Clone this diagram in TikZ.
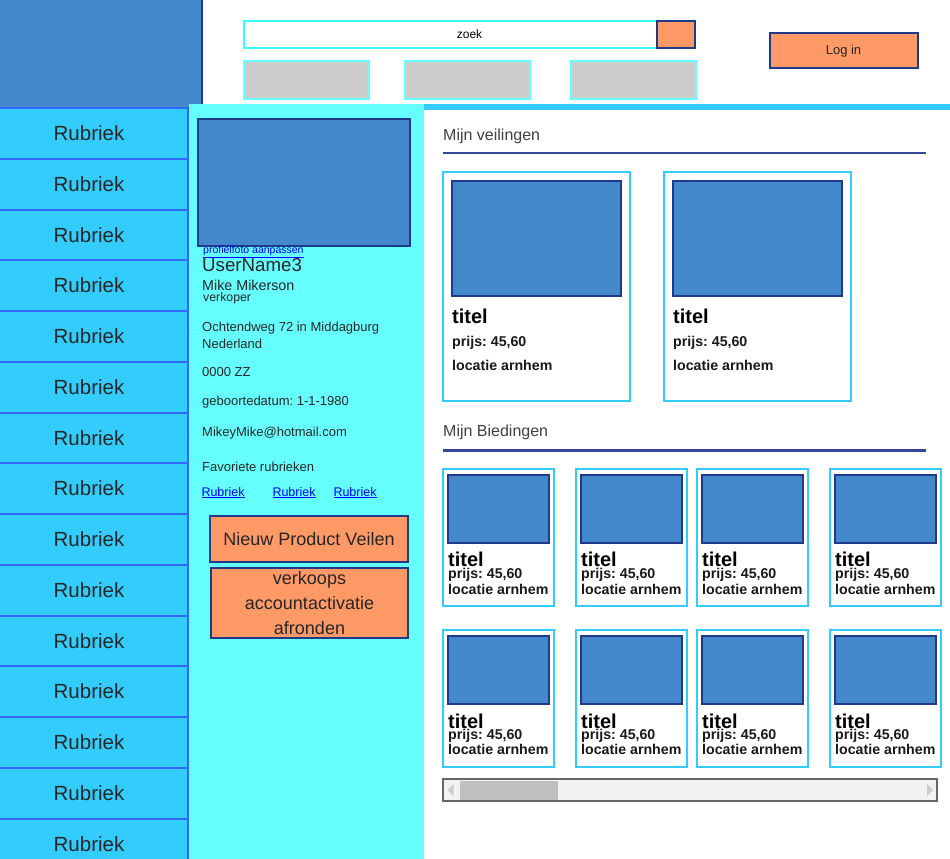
\documentclass[tikz,border=0pt]{standalone}
\usepackage{fontspec}
\setmainfont{Liberation Sans}
\usepackage{tikz, xcolor}
\frenchspacing

\definecolor{logoblauw}{HTML}{4488CC}
\definecolor{donkerblauw}{HTML}{1F3A8A}
\definecolor{rubriekblauw}{HTML}{33CCFF}
\definecolor{rubriekrand}{HTML}{3366FF}
\definecolor{paneel}{HTML}{66FFFF}
\definecolor{oranje}{HTML}{FF9966}
\definecolor{knopgrijs}{HTML}{CCCCCC}
\definecolor{zoekrand}{HTML}{33FFFF}
\definecolor{linkblauw}{HTML}{0000FF}
\definecolor{lijnblauw}{HTML}{34489A}

\begin{document}
\begin{tikzpicture}
	[
		x=1pt, y=-1pt,
		rubriek/.style={draw=rubriekrand, fill=rubriekblauw, line width=2pt, minimum width=198pt, minimum height=50.75pt, inner sep=0pt, text=black!85, font=\fontsize{20.5}{24}\selectfont},
		knop/.style={draw=donkerblauw, fill=oranje, line width=2pt, inner sep=0pt, text=black!85, align=center, font=\fontsize{18}{25}\selectfont},
		menuknop/.style={draw=paneel, fill=knopgrijs, line width=2pt, minimum width=125pt, minimum height=38pt, inner sep=0pt},
		afbeelding/.style={draw=donkerblauw, fill=logoblauw, line width=2pt},
		kaart/.style={draw=rubriekblauw, fill=white, line width=2pt},
		info/.style={anchor=base west, inner sep=0pt, text=black!85, font=\fontsize{13}{15}\selectfont},
		kop/.style={anchor=base west, inner sep=0pt, text=black!75, font=\fontsize{16}{19}\selectfont},
		link/.style={anchor=base west, inner sep=0pt, text=linkblauw, font=\fontsize{12.5}{15}\selectfont},
		titel/.style={anchor=base west, inner sep=0pt, font=\bfseries\fontsize{20}{24}\selectfont},
		detail/.style={anchor=base west, inner sep=0pt, text=black!90, font=\bfseries\fontsize{14.2}{17}\selectfont}
	]
	\useasboundingbox (0,0) rectangle (950,859);

	% Draw logo and header bar.
	\fill[logoblauw] (0,0) rectangle (202,108);
	\draw[donkerblauw, line width=2pt] (202,0) -- (202,105);
	\fill[rubriekblauw] (202,104) rectangle (950,110);

	% Draw search bar and menu buttons.
	\node[draw=zoekrand, fill=white, line width=2pt, minimum width=451pt, minimum height=27pt, inner sep=0pt, font=\fontsize{12}{14}\selectfont] (zoekbalk) at (469.5,34.5) {zoek};
	\node[knop, minimum width=38pt, minimum height=27pt] (zoekknop) at (676,34.5) {};
	\node[menuknop] (menu1) at (306,80) {};
	\node[menuknop] (menu2) at (467.5,80) {};
	\node[menuknop] (menu3) at (633,80) {};
	\node[knop, minimum width=148pt, minimum height=35pt, font=\fontsize{13}{15}\selectfont] (login) at (843.5,51) {Log in};

	% Draw rubrieken.
	\node[rubriek] (rub1) at (89,133.375) {Rubriek};
	\node[rubriek] (rub2) at (89,184.125) {Rubriek};
	\node[rubriek] (rub3) at (89,234.875) {Rubriek};
	\node[rubriek] (rub4) at (89,285.625) {Rubriek};
	\node[rubriek] (rub5) at (89,336.375) {Rubriek};
	\node[rubriek] (rub6) at (89,387.125) {Rubriek};
	\node[rubriek] (rub7) at (89,437.875) {Rubriek};
	\node[rubriek] (rub8) at (89,488.625) {Rubriek};
	\node[rubriek] (rub9) at (89,539.375) {Rubriek};
	\node[rubriek] (rub10) at (89,590.125) {Rubriek};
	\node[rubriek] (rub11) at (89,640.875) {Rubriek};
	\node[rubriek] (rub12) at (89,691.625) {Rubriek};
	\node[rubriek] (rub13) at (89,742.375) {Rubriek};
	\node[rubriek] (rub14) at (89,793.125) {Rubriek};
	\node[rubriek] (rub15) at (89,843.875) {Rubriek};

	% Draw profile panel.
	\fill[paneel] (189,104) rectangle (424,859);
	\draw[afbeelding] (198,119) rectangle (410,246);
	\node[link, font=\fontsize{10.5}{12}\selectfont] (fotolink) at (203,253.5) {\underline{profielfoto aanpassen}};
	\node[info, font=\fontsize{18.7}{22}\selectfont] (gebruiker) at (202,271.5) {UserName3};
	\node[info, font=\fontsize{14.3}{17}\selectfont] (naam) at (202,290.5) {Mike Mikerson};
	\node[info, font=\fontsize{12.3}{14}\selectfont] (rol) at (203,301.5) {verkoper};
	\node[info] (adres) at (202,331.5) {Ochtendweg 72 in Middagburg};
	\node[info] (land) at (202,348.3) {Nederland};
	\node[info] (postcode) at (202,376) {0000 ZZ};
	\node[info] (geboorte) at (202,405) {geboortedatum: 1-1-1980};
	\node[info] (email) at (202,436) {MikeyMike@hotmail.com};
	\node[info] (favoriet) at (202,471) {Favoriete rubrieken};
	\node[link] (fav1) at (201.3,496) {\underline{Rubriek}};
	\node[link] (fav2) at (272.3,496) {\underline{Rubriek}};
	\node[link] (fav3) at (333.3,496) {\underline{Rubriek}};
	\node[knop, minimum width=198pt, minimum height=46pt] (nieuw) at (309,539) {Nieuw Product Veilen};
	\node[knop, minimum width=197pt, minimum height=70pt] (activatie) at (309.5,603) {verkoops\\accountactivatie\\afronden};

	% Draw Mijn veilingen.
	\node[kop] (veilingen) at (443,140.5) {Mijn veilingen};
	\draw[lijnblauw, line width=2.5pt] (443,153) -- (926,153);
	\draw[kaart] (443,172) rectangle (630,401);
	\draw[afbeelding] (452,181) rectangle (621,296);
	\node[titel] (vtitel1) at (452,323.3) {titel};
	\node[detail] (vprijs1) at (452,346.7) {prijs: 45,60};
	\node[detail] (vlocatie1) at (452,370.7) {locatie arnhem};
	\draw[kaart] (664,172) rectangle (851,401);
	\draw[afbeelding] (673,181) rectangle (842,296);
	\node[titel] (vtitel2) at (673,323.3) {titel};
	\node[detail] (vprijs2) at (673,346.7) {prijs: 45,60};
	\node[detail] (vlocatie2) at (673,370.7) {locatie arnhem};

	% Draw Mijn Biedingen.
	\node[kop] (biedingen) at (443,436.7) {Mijn Biedingen};
	\draw[lijnblauw, line width=2.5pt] (443,450.5) -- (926,450.5);
	\draw[kaart] (443,469) rectangle (554,606);
	\draw[afbeelding] (448,475) rectangle (549,543);
	\node[titel] (btitel1) at (448,566.7) {titel};
	\node[detail] (bprijs1) at (448,578.3) {prijs: 45,60};
	\node[detail] (blocatie1) at (448,594) {locatie arnhem};
	\draw[kaart] (576,469) rectangle (687,606);
	\draw[afbeelding] (581,475) rectangle (682,543);
	\node[titel] (btitel2) at (581,566.7) {titel};
	\node[detail] (bprijs2) at (581,578.3) {prijs: 45,60};
	\node[detail] (blocatie2) at (581,594) {locatie arnhem};
	\draw[kaart] (697,469) rectangle (808,606);
	\draw[afbeelding] (702,475) rectangle (803,543);
	\node[titel] (btitel3) at (702,566.7) {titel};
	\node[detail] (bprijs3) at (702,578.3) {prijs: 45,60};
	\node[detail] (blocatie3) at (702,594) {locatie arnhem};
	\draw[kaart] (830,469) rectangle (941,606);
	\draw[afbeelding] (835,475) rectangle (936,543);
	\node[titel] (btitel4) at (835,566.7) {titel};
	\node[detail] (bprijs4) at (835,578.3) {prijs: 45,60};
	\node[detail] (blocatie4) at (835,594) {locatie arnhem};
	\draw[kaart] (443,630) rectangle (554,767);
	\draw[afbeelding] (448,636) rectangle (549,704);
	\node[titel] (btitel5) at (448,728.3) {titel};
	\node[detail] (bprijs5) at (448,739.3) {prijs: 45,60};
	\node[detail] (blocatie5) at (448,754.7) {locatie arnhem};
	\draw[kaart] (576,630) rectangle (687,767);
	\draw[afbeelding] (581,636) rectangle (682,704);
	\node[titel] (btitel6) at (581,728.3) {titel};
	\node[detail] (bprijs6) at (581,739.3) {prijs: 45,60};
	\node[detail] (blocatie6) at (581,754.7) {locatie arnhem};
	\draw[kaart] (697,630) rectangle (808,767);
	\draw[afbeelding] (702,636) rectangle (803,704);
	\node[titel] (btitel7) at (702,728.3) {titel};
	\node[detail] (bprijs7) at (702,739.3) {prijs: 45,60};
	\node[detail] (blocatie7) at (702,754.7) {locatie arnhem};
	\draw[kaart] (830,630) rectangle (941,767);
	\draw[afbeelding] (835,636) rectangle (936,704);
	\node[titel] (btitel8) at (835,728.3) {titel};
	\node[detail] (bprijs8) at (835,739.3) {prijs: 45,60};
	\node[detail] (blocatie8) at (835,754.7) {locatie arnhem};

	% Draw scrollbar.
	\draw[black!60, fill=black!5, line width=2pt] (443,779) rectangle (937,801);
	\fill[black!25] (460,780.5) rectangle (558,800);
	\fill[black!20] (453.5,784) -- (447.5,790) -- (453.5,796) -- cycle;
	\fill[black!20] (927,784) -- (933,790) -- (927,796) -- cycle;
\end{tikzpicture}
\end{document}
